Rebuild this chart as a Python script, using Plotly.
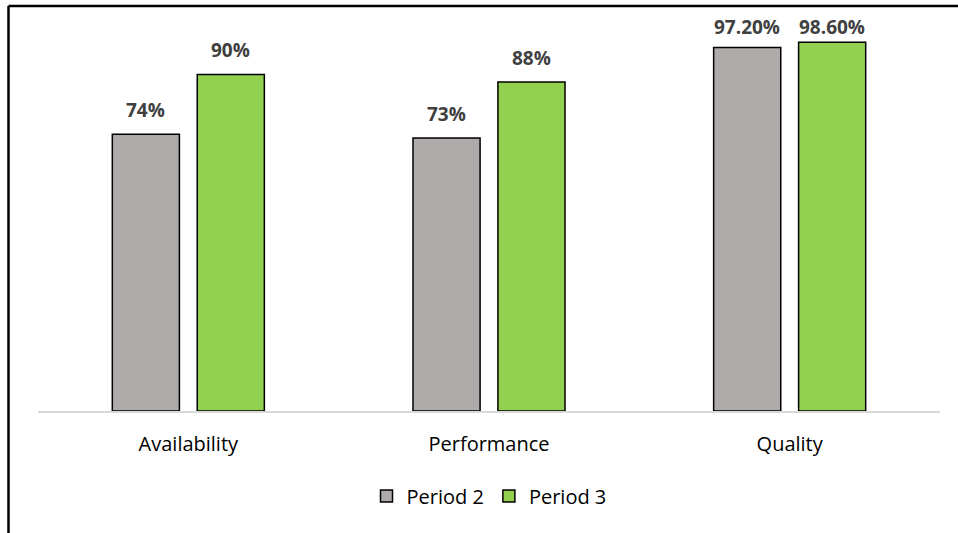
import plotly.graph_objects as go

categories = ["Availability", "Performance", "Quality"]
period2 = [74, 73, 97.2]
period3 = [90, 88, 98.6]
labels2 = ["74%", "73%", "97.20%"]
labels3 = ["90%", "88%", "98.60%"]
series_names = ["Period 2", "Period 3"]

W, H = 958, 533
ml, mr, mt, mb = 38, 18, 37, 122

pw = W - ml - mr
ph = H - mt - mb
ymax = 100
def px_x(p):
    return (p - ml) / pw
def px_y(p):
    return (H - mb - p) / ph

fig = go.Figure()
fig.add_trace(go.Bar(x=categories, y=period2, name=series_names[0],
                     marker=dict(color="#AEAAAA", line=dict(color="#000000", width=1.5))))
fig.add_trace(go.Bar(x=categories, y=period3, name=series_names[1],
                     marker=dict(color="#92D050", line=dict(color="#000000", width=1.5))))

label_top_limit = 34  # labels are not drawn higher than this (px from top)
def shift_for(v):
    bar_top_px = (H - mb) - v / ymax * ph
    return min(9, (bar_top_px - label_top_limit) - 8)

annotations = []
for offset, vals, texts in ((-0.141, period2, labels2), (0.141, period3, labels3)):
    for i, (v, t) in enumerate(zip(vals, texts)):
        annotations.append(dict(x=i + offset, y=v, xref="x", yref="y", text=t, showarrow=False,
                                yanchor="bottom", yshift=shift_for(v),
                                font=dict(family="Open Sans", size=19, color="#404040", weight="bold")))

shapes = [
    dict(type="line", xref="paper", yref="paper", x0=px_x(8.5), x1=px_x(960), y0=px_y(6), y1=px_y(6),
         line=dict(color="#000000", width=2.5)),
    dict(type="line", xref="paper", yref="paper", x0=px_x(8.5), x1=px_x(8.5), y0=px_y(6), y1=px_y(540),
         line=dict(color="#000000", width=2.5)),
]

fig.update_layout(
    width=W, height=H,
    margin=dict(l=ml, r=mr, t=mt, b=mb),
    paper_bgcolor="white", plot_bgcolor="white",
    barmode="group", bargap=0.435, bargroupgap=0.21,
    font=dict(family="Open Sans", size=20, color="#000000"),
    xaxis=dict(showline=True, linecolor="#D9D9D9", linewidth=1.5, showgrid=False,
               ticks="", ticklabelstandoff=14, tickfont=dict(size=20, color="#000000")),
    yaxis=dict(range=[0, ymax], visible=False, showgrid=False),
    legend=dict(orientation="h", x=0.5, xanchor="center", y=px_y(496), yanchor="middle",
                font=dict(size=20, color="#000000"), itemwidth=30, traceorder="normal"),
    annotations=annotations,
    shapes=shapes,
    showlegend=True,
)

fig.write_html("out.html")
